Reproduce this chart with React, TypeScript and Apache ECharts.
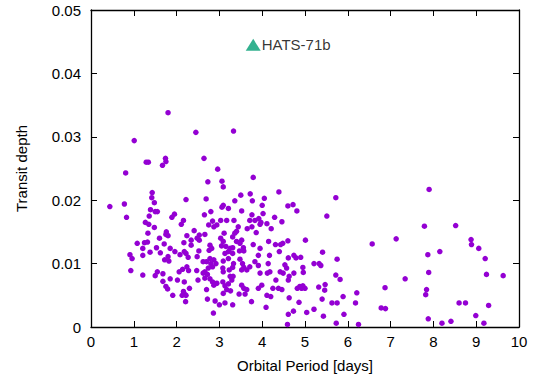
import React, { useEffect, useRef } from "react";
import * as echarts from "echarts";

// Orbital period [days], transit depth of the known planets
const otherPlanets: [number, number][] = [
  [1.80,0.0338],[2.45,0.0307],[1.01,0.0294],[1.29,0.0260],[1.34,0.0260],[1.74,0.0266],[1.75,0.0261],[1.67,0.0255],[0.81,0.0243],[1.43,0.0212],[1.42,0.0204],[1.48,0.0196],[2.22,0.0201],[0.44,0.0190],[0.78,0.0194],[1.39,0.0185],[1.50,0.0182],[1.55,0.0182],[1.36,0.0175],[0.83,0.0173],[1.95,0.0178],[1.89,0.0173],
  [2.16,0.0168],[2.11,0.0162],[1.27,0.0165],[1.35,0.0162],[1.48,0.0157],[2.41,0.0152],[1.33,0.0148],[1.76,0.0150],[1.75,0.0146],[1.80,0.0144],[2.24,0.0144],[2.53,0.0145],[2.48,0.0140],[1.60,0.0140],[2.34,0.0137],[1.08,0.0132],[1.25,0.0133],[1.32,0.0134],[1.71,0.0131],[2.17,0.0133],[2.34,0.0129],[1.21,0.0124],[1.53,0.0125],[1.85,0.0124],[1.38,0.0118],[1.62,0.0117],[1.96,0.0119],[2.18,0.0119],[2.22,0.0116],[2.08,0.0114],[0.91,0.0114],[0.96,0.0108],[1.21,0.0113],[1.80,0.0111],[2.27,0.0110],[2.48,0.0111],[2.52,0.0120],[1.72,0.0106],[1.82,0.0104],[0.93,0.0089],[1.21,0.0082],[1.55,0.0087],[1.50,0.0081],[1.68,0.0084],[2.06,0.0087],[2.14,0.0091],[2.24,0.0095],[2.28,0.0089],[2.47,0.0089],[1.68,0.0072],[1.85,0.0076],[2.02,0.0074],[2.18,0.0071],[1.75,0.0064],[1.79,0.0060],[2.30,0.0061],[2.16,0.0056],[2.20,0.0051],[2.13,0.0050],[2.22,0.0050],[1.91,0.0050],[2.21,0.0040],[2.50,0.0074],
  [3.33,0.0309],[2.64,0.0266],[2.96,0.0249],[2.73,0.0229],[3.06,0.0230],[3.09,0.0221],[3.79,0.0236],[4.39,0.0213],[2.69,0.0202],[3.50,0.0208],[3.72,0.0210],[3.77,0.0199],[4.05,0.0203],[3.36,0.0199],[3.06,0.0189],[3.09,0.0192],[3.21,0.0187],[4.00,0.0192],[4.60,0.0191],[4.72,0.0193],[4.81,0.0183],[2.65,0.0177],[2.80,0.0182],[3.52,0.0183],[3.76,0.0177],[4.02,0.0179],[4.29,0.0173],
  [3.92,0.0171],[4.46,0.0166],[2.75,0.0161],[2.84,0.0167],[2.87,0.0158],[2.94,0.0161],[3.03,0.0168],[3.17,0.0168],[3.34,0.0168],[3.44,0.0158],[3.40,0.0151],[3.36,0.0148],[3.31,0.0142],[3.71,0.0168],[3.83,0.0168],[3.97,0.0165],[3.95,0.0162],[4.11,0.0163],[4.21,0.0155],[3.65,0.0155],[3.76,0.0158],[3.86,0.0149],[3.11,0.0148],[2.66,0.0146],[2.53,0.0137],[3.03,0.0140],[3.09,0.0135],[3.05,0.0128],[3.15,0.0127],[3.25,0.0124],[3.31,0.0125],[3.21,0.0119],[3.13,0.0116],[3.31,0.0116],[2.78,0.0129],[2.82,0.0124],[2.76,0.0121],[3.40,0.0135],[3.48,0.0132],[3.52,0.0137],[3.56,0.0125],[3.47,0.0120],[3.57,0.0120],[3.79,0.0130],[3.91,0.0113],[3.95,0.0124],[4.15,0.0135],[4.31,0.0130],[4.43,0.0130],[4.48,0.0132],[4.60,0.0136],[4.17,0.0113],[4.40,0.0119],[4.61,0.0109],[4.74,0.0113],[4.79,0.0109],
  [2.62,0.0103],[2.70,0.0103],[2.78,0.0108],[2.80,0.0100],[2.87,0.0106],[2.92,0.0100],[2.84,0.0095],[2.74,0.0093],[2.66,0.0087],[2.72,0.0083],[3.09,0.0104],[3.21,0.0108],[3.33,0.0100],[3.31,0.0094],[3.23,0.0090],[3.09,0.0087],[3.08,0.0093],[3.48,0.0107],[3.54,0.0100],[3.57,0.0094],[3.52,0.0090],[3.64,0.0090],[3.71,0.0095],[3.83,0.0103],[3.91,0.0097],[4.14,0.0100],[4.18,0.0087],[4.12,0.0085],[3.95,0.0085],[4.42,0.0087],[4.49,0.0085],[4.57,0.0093],[4.53,0.0098],[4.63,0.0080],[4.61,0.0074],[4.74,0.0085],[4.82,0.0061],
  [2.62,0.0085],[2.66,0.0077],[2.78,0.0076],[2.84,0.0071],[2.87,0.0066],[2.94,0.0069],[3.08,0.0071],[3.13,0.0065],[3.21,0.0068],[3.29,0.0074],[3.32,0.0080],[3.25,0.0080],[3.17,0.0059],[3.26,0.0057],[3.09,0.0053],[3.52,0.0066],[3.57,0.0061],[3.64,0.0059],[3.46,0.0052],[3.60,0.0052],[3.91,0.0061],[3.99,0.0066],[4.11,0.0050],[4.20,0.0048],[4.25,0.0061],[4.32,0.0074],[4.38,0.0061],[4.46,0.0059],[2.70,0.0059],[2.72,0.0044],[2.90,0.0041],[3.00,0.0035],[3.13,0.0038],[3.31,0.0035],[3.75,0.0040],[2.86,0.0022],[4.09,0.0031],[4.63,0.0046],[4.61,0.0020],[4.73,0.0025],[4.59,0.0004],
  [5.51,0.0175],[5.01,0.0137],[6.57,0.0131],[7.13,0.0139],[5.41,0.0118],[4.90,0.0110],[5.75,0.0107],[5.21,0.0100],[5.33,0.0100],[5.37,0.0097],[4.95,0.0094],[4.96,0.0086],[5.72,0.0082],[5.82,0.0075],[4.88,0.0064],[4.95,0.0065],[5.00,0.0061],[4.92,0.0061],[5.32,0.0063],[5.47,0.0067],[5.46,0.0058],[6.21,0.0054],[6.87,0.0062],[5.89,0.0048],[5.40,0.0044],[4.86,0.0039],[5.63,0.0038],[5.75,0.0038],[6.18,0.0038],[5.21,0.0028],[5.04,0.0023],[6.78,0.0030],[6.88,0.0029],[5.43,0.0017],[5.91,0.0020],[5.73,0.0006],[6.25,0.0004],
  [5.72,0.0204],
  [7.90,0.0217],[7.79,0.0159],[8.52,0.0160],[8.88,0.0138],[8.89,0.0130],[9.06,0.0124],[8.15,0.0119],[7.87,0.0114],[9.21,0.0108],[7.34,0.0076],[7.89,0.0086],[9.24,0.0083],[9.63,0.0081],[7.84,0.0059],[7.82,0.0051],[8.60,0.0038],[8.75,0.0038],[9.29,0.0034],[7.88,0.0013],[8.20,0.0006],[8.41,0.0009],[8.99,0.0018],[9.18,0.0006],
];

const highlightName = "HATS-71b";
const highlightPoint: [number, number] = [3.79, 0.0445];

const xTicks = [0, 1, 2, 3, 4, 5, 6, 7, 8, 9, 10];
const yTicks = [0, 0.01, 0.02, 0.03, 0.04, 0.05];

const FONT = "'Liberation Sans', Arial, Helvetica, sans-serif";
const FS = 15;

export default function App() {
  const ref = useRef<HTMLDivElement>(null);
  useEffect(() => {
    if (!ref.current) return;
    const chart = echarts.init(ref.current, undefined, { renderer: "svg" });
    const xMin = xTicks[0];
    const xMax = xTicks[xTicks.length - 1];
    const yMin = yTicks[0];
    const yMax = yTicks[yTicks.length - 1];
    const line = { show: true, onZero: false, lineStyle: { color: "#000", width: 1.3 } };
    const tick = { show: true, inside: true, length: 6, lineStyle: { color: "#000", width: 1 } };
    const label = { color: "#000", fontSize: FS, fontFamily: FONT };
    chart.setOption({
      animation: false,
      grid: { left: 91, right: 18, top: 10, bottom: 49, containLabel: false },
      xAxis: [
        {
          type: "value", min: xMin, max: xMax, interval: 1, position: "bottom",
          name: "Orbital Period [days]", nameLocation: "middle", nameGap: 31,
          nameTextStyle: { color: "#000", fontSize: FS, fontFamily: FONT },
          axisLine: line, axisTick: tick, splitLine: { show: false },
          axisLabel: { ...label, margin: 7 },
        },
        {
          type: "value", min: xMin, max: xMax, interval: 1, position: "top",
          axisLine: line, axisTick: tick, splitLine: { show: false }, axisLabel: { show: false },
        },
      ],
      yAxis: [
        {
          type: "value", min: yMin, max: yMax, interval: 0.01, position: "left",
          name: "Transit depth", nameLocation: "middle", nameGap: 62, nameRotate: 90,
          nameTextStyle: { color: "#000", fontSize: FS, fontFamily: FONT },
          axisLine: line, axisTick: tick, splitLine: { show: false },
          axisLabel: { ...label, margin: 10, formatter: (v: number) => (v === 0 ? "0" : v.toFixed(2)) },
        },
        {
          type: "value", min: yMin, max: yMax, interval: 0.01, position: "right",
          axisLine: line, axisTick: tick, splitLine: { show: false }, axisLabel: { show: false },
        },
      ],
      series: [
        {
          type: "scatter", xAxisIndex: 0, yAxisIndex: 0,
          data: otherPlanets, symbol: "circle", symbolSize: 5.5,
          itemStyle: { color: "#9400d3", opacity: 1 },
        },
        {
          type: "scatter", xAxisIndex: 0, yAxisIndex: 0,
          data: [highlightPoint], symbol: "triangle", symbolSize: [15, 12],
          itemStyle: { color: "#009e73" },
          label: {
            show: true, position: "right", distance: 1, formatter: highlightName,
            color: "#000", fontSize: FS, fontFamily: FONT,
          },
        },
      ],
    });
    return () => chart.dispose();
  }, []);
  return <div ref={ref} style={{ width: 537, height: 378, position: "absolute", left: 0, top: 0 }} />;
}
